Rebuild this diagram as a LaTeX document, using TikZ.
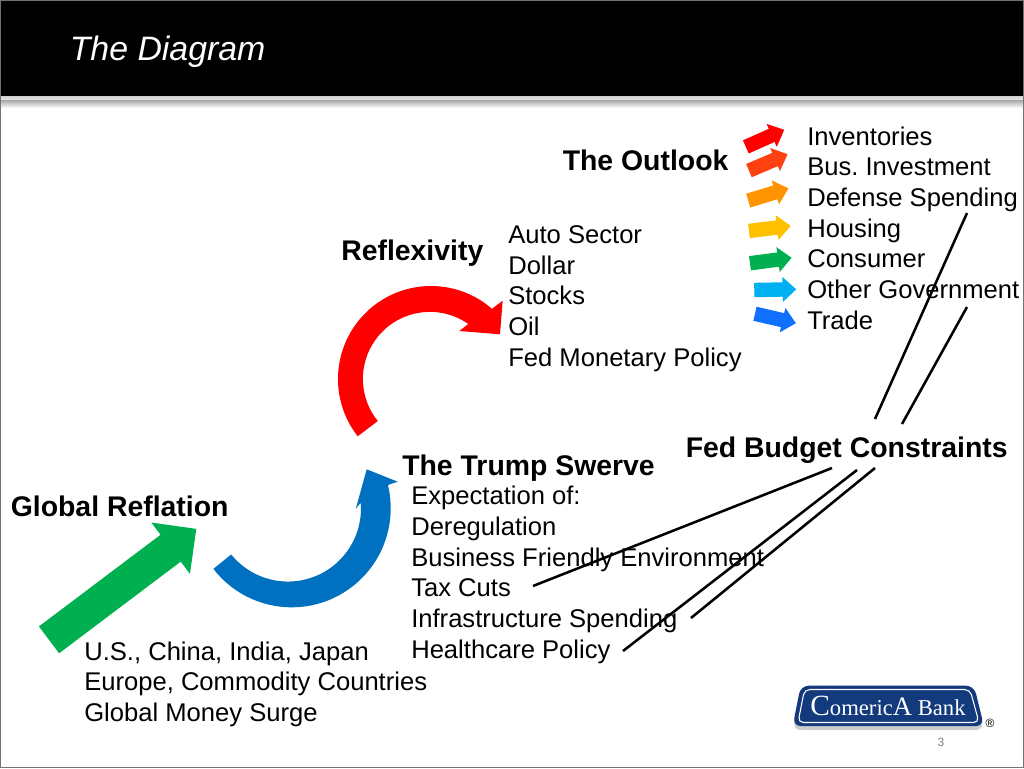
\documentclass[tikz,border=0pt]{standalone}
\usepackage{fontspec}
\setmainfont{Liberation Sans}
\newfontfamily\serifbank{Liberation Serif}
\usepackage{tikz}
\usetikzlibrary{shapes.arrows,shadows}
\frenchspacing
\definecolor{busred}{HTML}{FF4010}
\definecolor{defenseorange}{HTML}{FF9400}
\definecolor{housingyellow}{HTML}{FFC000}
\definecolor{greenarrow}{HTML}{00B050}
\definecolor{skyarrow}{HTML}{00B0F0}
\definecolor{tradeblue}{HTML}{0F70FF}
\definecolor{swerveblue}{HTML}{0070C0}
\definecolor{banknavy}{HTML}{123A7C}

\begin{document}
\begin{tikzpicture}[x=0.75pt,y=-0.75pt]
\tikzstyle{plain1}=[font=\fontsize{19.2}{23}\selectfont, align=left, inner sep=0, anchor=north west]
\tikzstyle{bold1}=[font=\fontsize{21.3}{23}\selectfont\bfseries, inner sep=0, anchor=base west]
\tikzstyle{arrow1}=[single arrow, anchor=tail, inner sep=5.2pt, minimum height=31.5pt, single arrow head extend=4pt, single arrow tip angle=85, single arrow head indent=0pt]
\tikzstyle{line1}=[black, line width=1.9pt]

\useasboundingbox (0,0) rectangle (1024,768);
\fill[white] (0,0) rectangle (1024,768);

% header band
\fill[black] (0,0) rectangle (1024,96);
\shade[top color=gray!35, bottom color=gray!20] (0,96) rectangle (1024,100);
\shade[top color=gray!70, bottom color=white] (0,100) rectangle (1024,108);
\draw[gray!90!black, line width=0.75pt] (0.4,0.4) rectangle (1023.6,767.6);
\node (title1) at (69.5,60) [anchor=base west, inner sep=0, text=white, font=\fontsize{25.4}{28}\selectfont\itshape] {The Diagram};

% small arrows
\node (a1) at (745.6,147) [arrow1, fill=red, rotate=24] {};
\node (a2) at (748.7,170.7) [arrow1, fill=busred, rotate=23] {};
\node (a3) at (748,200.7) [arrow1, fill=defenseorange, rotate=17] {};
\node (a4) at (748.7,231) [arrow1, fill=housingyellow, rotate=7] {};
\node (a5) at (749.7,263.3) [arrow1, fill=greenarrow, rotate=7.5] {};
\node (a6) at (754,290) [arrow1, fill=skyarrow, rotate=1] {};
\node (a7) at (754.7,313.7) [arrow1, fill=tradeblue, rotate=-13] {};

% big green arrow
\node (a8) at (48.8,640) [single arrow, anchor=tail, fill=greenarrow, inner sep=12.4pt, minimum height=138.3pt, single arrow head extend=11.5pt, single arrow tip angle=90, single arrow head indent=0pt, rotate=37] {};

% curved arrows
\coordinate (c1) at (431,379);
\coordinate (c2) at (291.7,508.3);
\fill[red] (c1) ++(142:93) arc[start angle=142, end angle=311, radius=93] -- (502.7,300.7) -- (500,334.3) -- (459.3,331) -- (468.3,324) arc[start angle=305, end angle=141, radius=67] -- cycle;
\fill[swerveblue] (c2) ++(142.3:99) arc[start angle=142.3, end angle=-13.6, radius=99] -- (397.7,481.7) -- (366.7,469.3) -- (355.7,509) -- (360.7,502.7) arc[start angle=-4.6, end angle=141, radius=73] -- cycle;

% labels
\node (outlook) at (562.5,170) [bold1] {The Outlook};
\node (reflex) at (341,260) [bold1] {Reflexivity};
\node (budget) at (685.5,457) [bold1] {Fed Budget Constraints};
\node (swerve) at (402,475) [bold1] {The Trump Swerve};
\node (reflation) at (10.5,516) [bold1] {Global Reflation};
\node (list1) at (807,126.5) [plain1] {Inventories\\Bus. Investment\\Defense Spending\\Housing\\Consumer\\Other Government\\Trade};
\node (list2) at (508,225.5) [plain1] {Auto Sector\\Dollar\\Stocks\\Oil\\Fed Monetary Policy};
\node (list3) at (411,486) [plain1] {Expectation of:\\Deregulation\\Business Friendly Environment\\Tax Cuts\\Infrastructure Spending\\Healthcare Policy};
\node (list4) at (84,641.5) [plain1] {U.S., China, India, Japan\\Europe, Commodity Countries\\Global Money Surge};

% budget lines
\coordinate (p1) at (967,213);
\coordinate (p2) at (875,419);
\coordinate (p3) at (967,307);
\coordinate (p4) at (902,424);
\coordinate (p5) at (832,468);
\coordinate (p6) at (533,586);
\coordinate (p7) at (857,470);
\coordinate (p8) at (623,651);
\coordinate (p9) at (875,468);
\coordinate (p10) at (691,618);
\draw[line1] (p1) -- (p2);
\draw[line1] (p3) -- (p4);
\draw[line1] (p5) -- (p6);
\draw[line1] (p7) -- (p8);
\draw[line1] (p9) -- (p10);

% logo
\fill[banknavy, rounded corners=6pt, drop shadow={shadow xshift=0pt, shadow yshift=-3pt, opacity=.4}] (800.7,685.7) -- (974,685.7) -- (984,726) -- (792.7,726) -- cycle;
\draw[white, line width=0.8pt, rounded corners=4pt] (804.5,689.5) -- (970,689.5) -- (979,722.5) -- (798,722.5) -- cycle;
\node (bank) at (888,705.5) [inner sep=0, text=white, font=\serifbank\fontsize{17}{18}\selectfont] {{\fontsize{22}{18}\selectfont C}omeric{\fontsize{20}{18}\selectfont A} Bank};
\node (reg) at (990,723) [inner sep=0, text=black, font=\fontsize{9}{10}\selectfont] {®};
\node (page) at (941,742) [inner sep=0, text=gray, font=\fontsize{9}{10}\selectfont] {3};
\end{tikzpicture}
\end{document}
